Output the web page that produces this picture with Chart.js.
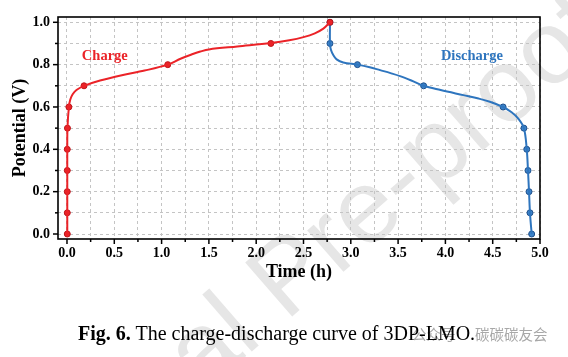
<!DOCTYPE html>
<html>
<head>
<meta charset="utf-8">
<script src="https://cdn.jsdelivr.net/npm/chart.js@4.4.1/dist/chart.umd.min.js"></script>
<style>
  body { margin: 0; background: #fff; }
  #wrap { position: relative; width: 568px; height: 357px; overflow: hidden; }
  #wm { position: absolute; left: 286px; top: 274px; transform: translate(-50%, -50%) rotate(-41deg);
        font: 104px/1 'Liberation Sans', Arial, sans-serif; color: #e6e6e6; white-space: nowrap; }
  canvas { position: absolute; left: 0; top: 0; }
  #caption { position: absolute; left: 78px; top: 323px; font: 20px/20px 'Liberation Serif', 'Times New Roman', serif;
             white-space: nowrap; color: #000; }
  .tag { position: absolute; top: 326px; font: 14.5px/16px 'Noto Sans CJK SC', sans-serif; color: #a8a8a8; white-space: nowrap; }
</style>
</head>
<body>
<div id="wrap">
  <div id="wm">Journal Pre-proof</div>
  <canvas id="chart" width="568" height="357"></canvas>
  <span class="tag" style="left:412px">公众号</span>
  <div id="caption"><b>Fig. 6.</b> The charge-discharge curve of 3DP-LMO.</div>
  <span class="tag" style="left:475px">碳碳碳友会</span>
</div>
<script>
// charge curve (time in h, potential in V)
const chargeTime = [0.003, 0.003, 0.003, 0.003, 0.003, 0.005, 0.02, 0.035, 0.06, 0.1, 0.18, 0.35, 0.58, 0.82, 1.065,
  1.2, 1.33, 1.41, 1.5, 1.8, 2.155, 2.35, 2.5, 2.62, 2.71, 2.78];
const chargeV = [0, 0.1, 0.2, 0.3, 0.4, 0.5, 0.6, 0.635, 0.66, 0.68, 0.70, 0.725, 0.75, 0.772, 0.80,
  0.828, 0.85, 0.862, 0.872, 0.886, 0.902, 0.915, 0.93, 0.948, 0.97, 1.0];
const chargeMarkTime = [0.003, 0.003, 0.003, 0.003, 0.003, 0.005, 0.02, 0.18, 1.065, 2.155, 2.78];
const chargeMarkV = [0, 0.1, 0.2, 0.3, 0.4, 0.5, 0.6, 0.7, 0.8, 0.9, 1.0];

// discharge curve
const dischargeTime = [2.78, 2.78, 2.79, 2.815, 2.85, 2.92, 3.07, 3.2, 3.31, 3.42, 3.52, 3.64, 3.77, 3.95, 4.19,
  4.35, 4.47, 4.61, 4.7, 4.77, 4.83, 4.86, 4.873, 4.884, 4.894, 4.912];
const dischargeV = [1.0, 0.9, 0.87, 0.845, 0.825, 0.81, 0.80, 0.788, 0.774, 0.76, 0.746, 0.725, 0.70, 0.68, 0.656,
  0.64, 0.625, 0.60, 0.575, 0.545, 0.50, 0.40, 0.30, 0.20, 0.10, 0.0];
const dischargeMarkTime = [2.78, 2.78, 3.07, 3.77, 4.61, 4.83, 4.86, 4.873, 4.884, 4.894, 4.912];
const dischargeMarkV = [1.0, 0.9, 0.8, 0.7, 0.6, 0.5, 0.4, 0.3, 0.2, 0.1, 0.0];

const xTickValues = [0, 0.25, 0.5, 0.75, 1, 1.25, 1.5, 1.75, 2, 2.25, 2.5, 2.75, 3, 3.25, 3.5, 3.75, 4, 4.25, 4.5, 4.75, 5];
const xTickLabels = ['0.0', '', '0.5', '', '1.0', '', '1.5', '', '2.0', '', '2.5', '', '3.0', '', '3.5', '', '4.0', '', '4.5', '', '5.0'];
const yTickValues = [0, 0.1, 0.2, 0.3, 0.4, 0.5, 0.6, 0.7, 0.8, 0.9, 1.0];
const yTickLabels = ['0.0', '', '0.2', '', '0.4', '', '0.6', '', '0.8', '', '1.0'];

const red = 'rgb(235,35,40)';
const blue = 'rgb(46,117,190)';
const serif = "'Liberation Serif', 'Times New Roman', serif";

function pts(xs, ys) {
  return xs.map((x, i) => ({ x: x, y: ys[i] }));
}

// frame, tick marks (long major / short minor) and the two curve labels
const frameTicks = {
  id: 'frameTicks',
  afterDraw(chart) {
    const { ctx, chartArea: a, scales: { x, y } } = chart;
    ctx.save();
    ctx.strokeStyle = '#000';
    ctx.lineWidth = 1.5;
    xTickValues.forEach((v, i) => {
      const px = x.getPixelForValue(v);
      const len = xTickLabels[i] ? 5 : 3;
      ctx.beginPath();
      ctx.moveTo(px, a.bottom);
      ctx.lineTo(px, a.bottom + len);
      ctx.stroke();
    });
    yTickValues.forEach((v, i) => {
      const py = y.getPixelForValue(v);
      const len = yTickLabels[i] ? 5 : 3;
      ctx.beginPath();
      ctx.moveTo(a.left, py);
      ctx.lineTo(a.left - len, py);
      ctx.stroke();
    });
    ctx.lineWidth = 1.6;
    ctx.strokeRect(a.left, a.top, a.right - a.left, a.bottom - a.top);

    ctx.font = 'bold 14.5px ' + serif;
    ctx.textAlign = 'center';
    ctx.textBaseline = 'middle';
    ctx.fillStyle = red;
    ctx.fillText('Charge', x.getPixelForValue(0.40), y.getPixelForValue(0.84));
    ctx.fillStyle = blue;
    ctx.fillText('Discharge', x.getPixelForValue(4.28), y.getPixelForValue(0.84));
    ctx.restore();
  }
};

new Chart(document.getElementById('chart'), {
  type: 'scatter',
  data: {
    datasets: [
      { label: 'Charge', data: pts(chargeTime, chargeV), showLine: true, borderColor: red, borderWidth: 2,
        pointRadius: 0, tension: 0.35, fill: false },
      { label: 'Charge points', data: pts(chargeMarkTime, chargeMarkV), showLine: false, pointRadius: 3,
        backgroundColor: red, borderColor: 'rgb(190,20,25)', borderWidth: 1 },
      { label: 'Discharge', data: pts(dischargeTime, dischargeV), showLine: true, borderColor: blue, borderWidth: 2,
        pointRadius: 0, tension: 0.35, fill: false },
      { label: 'Discharge points', data: pts(dischargeMarkTime, dischargeMarkV), showLine: false, pointRadius: 3,
        backgroundColor: 'rgb(60,130,200)', borderColor: 'rgb(30,80,140)', borderWidth: 1 }
    ]
  },
  options: {
    responsive: false,
    animation: false,
    layout: { padding: { top: 17, right: 28, bottom: 68, left: 0 } },
    plugins: { legend: { display: false }, tooltip: { enabled: false } },
    scales: {
      x: {
        type: 'linear', min: -0.095, max: 5.0,
        afterBuildTicks: s => { s.ticks = xTickValues.map(v => ({ value: v })); },
        afterFit: s => { s.height = 50; },
        grid: { color: '#c4c4c4', lineWidth: 1, drawTicks: false },
        border: { display: false, dash: [3, 3] },
        ticks: {
          callback: (v, i) => xTickLabels[i],
          font: { family: serif, weight: 'bold', size: 14 }, color: '#000', padding: 6,
          maxRotation: 0, autoSkip: false
        },
        title: { display: true, text: 'Time (h)', color: '#000', padding: { bottom: 6 },
          font: { family: serif, weight: 'bold', size: 18 } }
      },
      y: {
        type: 'linear', min: -0.0236, max: 1.025,
        afterBuildTicks: s => { s.ticks = yTickValues.map(v => ({ value: v })); },
        afterFit: s => { s.width = 58; },
        grid: { color: '#c4c4c4', lineWidth: 1, drawTicks: false },
        border: { display: false, dash: [3, 3] },
        ticks: {
          callback: (v, i) => yTickLabels[i],
          font: { family: serif, weight: 'bold', size: 14 }, color: '#000', padding: 8,
          autoSkip: false
        },
        title: { display: true, text: 'Potential (V)', color: '#000', padding: { top: 10 },
          font: { family: serif, weight: 'bold', size: 18 } }
      }
    }
  },
  plugins: [frameTicks]
});
</script>
</body>
</html>
